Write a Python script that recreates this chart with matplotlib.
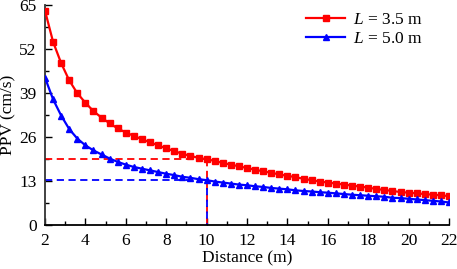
import numpy as np
import matplotlib.pyplot as plt

plt.rcParams['font.family'] = ['Liberation Serif', 'DejaVu Serif']
plt.rcParams['mathtext.fontset'] = 'custom'
plt.rcParams['mathtext.it'] = 'Liberation Serif:italic'
plt.rcParams['mathtext.rm'] = 'Liberation Serif'

# distances, 2 m to 22 m every 0.4 m
distance = [2.0, 2.4, 2.8, 3.2, 3.6, 4.0, 4.4, 4.8, 5.2, 5.6, 6.0, 6.4, 6.8, 7.2, 7.6,
            8.0, 8.4, 8.8, 9.2, 9.6, 10.0, 10.4, 10.8, 11.2, 11.6, 12.0, 12.4, 12.8,
            13.2, 13.6, 14.0, 14.4, 14.8, 15.2, 15.6, 16.0, 16.4, 16.8, 17.2, 17.6,
            18.0, 18.4, 18.8, 19.2, 19.6, 20.0, 20.4, 20.8, 21.2, 21.6, 22.0]

ppv_35 = [63.4, 54.2, 47.9, 42.8, 39.0, 36.2, 33.7, 31.8, 30.1, 28.6, 27.4, 26.4, 25.4,
          24.5, 23.6, 22.7, 21.9, 21.1, 20.5, 19.9, 19.5, 19.0, 18.4, 17.9, 17.4, 16.9,
          16.4, 15.9, 15.5, 15.0, 14.6, 14.2, 13.7, 13.3, 12.9, 12.6, 12.3, 12.0, 11.7,
          11.4, 11.1, 10.7, 10.4, 10.1, 9.8, 9.6, 9.4, 9.2, 9.0, 8.8, 8.6]

ppv_50 = [43.6, 37.2, 32.4, 28.4, 25.6, 23.6, 22.1, 20.9, 19.7, 18.7, 17.9, 17.2, 16.7,
          16.2, 15.7, 15.2, 14.8, 14.3, 14.0, 13.6, 13.3, 12.9, 12.6, 12.3, 12.0, 11.8,
          11.5, 11.3, 11.0, 10.8, 10.6, 10.3, 10.1, 9.95, 9.75, 9.6, 9.4, 9.2, 9.0, 8.85,
          8.7, 8.55, 8.4, 8.1, 8.0, 7.8, 7.6, 7.4, 7.2, 7.0, 6.7]

labels = ['$L$ = 3.5 m', '$L$ = 5.0 m']
ref_x = 10
ref_35 = 19.5
ref_50 = 13.3

fig, ax = plt.subplots(figsize=(4.57, 2.69), dpi=100)
fig.subplots_adjust(left=0.0985, right=0.9825, top=0.98, bottom=0.163)

# reference dashed lines at 10 m
dash = (0, (4, 2.5))
ax.plot([2, ref_x], [ref_35, ref_35], color='red', ls=dash, lw=1.3)
ax.plot([2, ref_x], [ref_50, ref_50], color='blue', ls=dash, lw=1.3)
ax.plot([ref_x, ref_x], [0, ref_35], color='red', ls=dash, lw=1.3)
ax.plot([ref_x, ref_x], [0, ref_50], color='blue', ls=(3, (4, 2.5)), lw=1.3)

ax.plot(distance, ppv_35, color='red', marker='s', markersize=4.3, lw=1.6, label=labels[0], zorder=3)
ax.plot(distance, ppv_50, color='blue', marker='^', markersize=4.5, lw=1.6, label=labels[1], zorder=3)

ax.set_xlim(2, 22)
ax.set_ylim(0, 65)
ax.set_xticks(np.arange(2, 23, 2))
ax.set_xticks(np.arange(2, 23, 1), minor=True)
ax.set_yticks(np.arange(0, 66, 13))
ax.set_yticks(np.arange(0, 66, 6.5), minor=True)
ax.tick_params(direction='in', length=5, width=1, labelsize=12.5, pad=6)
ax.tick_params(which='minor', direction='in', length=3, width=1)
ax.spines['top'].set_visible(False)
ax.spines['right'].set_visible(False)
ax.spines['left'].set_linewidth(1.3)
ax.spines['bottom'].set_linewidth(1.3)
ax.spines['left'].set_color('#333333')

ax.set_xlabel('Distance (m)', fontsize=12.5, labelpad=1)
ax.set_ylabel('PPV (cm/s)', fontsize=12.5, labelpad=2)
ax.legend(loc='upper left', bbox_to_anchor=(0.63, 1.0), frameon=False, fontsize=12.5,
          handlelength=2.2, borderaxespad=0.0, labelspacing=0.15, handletextpad=0.5)

fig.savefig('out.png', dpi=100)
